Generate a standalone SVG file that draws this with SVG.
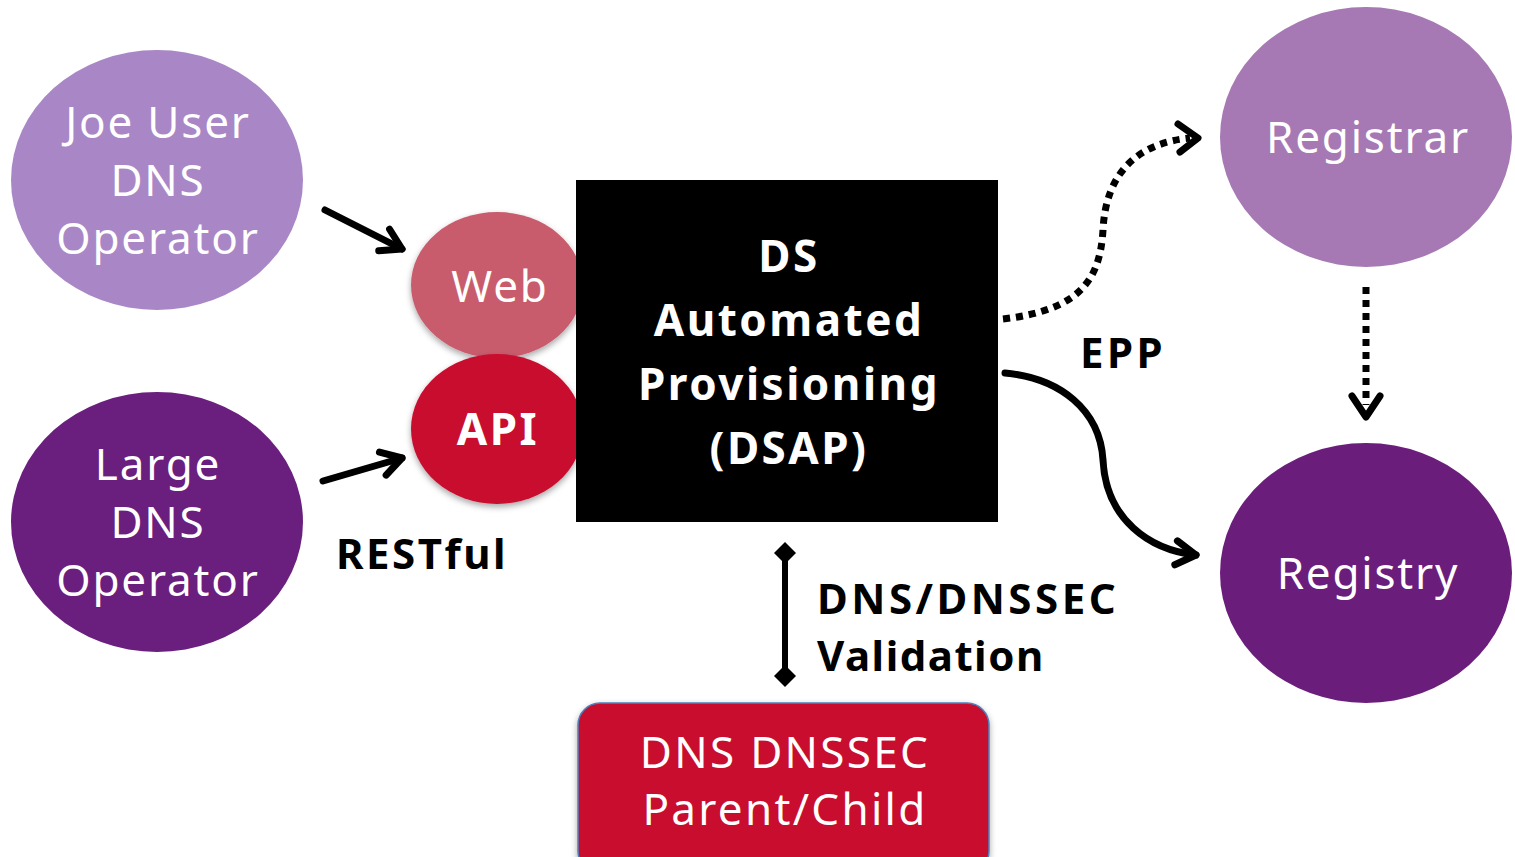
<svg xmlns="http://www.w3.org/2000/svg" width="1515" height="857" viewBox="0 0 1515 857">
<defs>
<style>
.lt{font-family:"Noto Sans","Open Sans","Liberation Sans",sans-serif;fill:#fff;text-anchor:middle;font-size:44px;letter-spacing:1.8px}
.bd{font-family:"Noto Sans","Open Sans","Liberation Sans",sans-serif;font-weight:bold;letter-spacing:2.5px}
.ln{fill:none;stroke:#000;stroke-width:7;stroke-linecap:round}
.dot{fill:none;stroke:#000;stroke-width:7;stroke-dasharray:7 6}
</style>
<marker id="chev" viewBox="-10 -15 30 30" refX="16" refY="0" markerWidth="30" markerHeight="30" markerUnits="userSpaceOnUse" orient="auto" overflow="visible">
<path d="M-4,-12 L16,0 L-4,12" fill="none" stroke="#000" stroke-width="7" stroke-linecap="round" stroke-linejoin="round"/>
</marker>
<marker id="dia" viewBox="-12 -12 24 24" refX="0" refY="0" markerWidth="24" markerHeight="24" markerUnits="userSpaceOnUse" orient="auto">
<path d="M-11,0 L0,-11 L11,0 L0,11 Z" fill="#000"/>
</marker>
<filter id="sh" x="-20%" y="-20%" width="140%" height="140%"><feDropShadow dx="0" dy="3" stdDeviation="3" flood-opacity="0.35"/></filter>
</defs>
<rect width="1515" height="857" fill="#fff"/>
<g id="joe"><ellipse cx="157" cy="180" rx="146" ry="130" fill="#a987c6"/>
<text class="lt"><tspan x="158" y="138">Joe User</tspan><tspan x="158" y="196">DNS</tspan><tspan x="158" y="254">Operator</tspan></text></g>
<g id="large"><ellipse cx="157" cy="522" rx="146" ry="130" fill="#6a1e7d"/>
<text class="lt"><tspan x="158" y="480">Large</tspan><tspan x="158" y="538">DNS</tspan><tspan x="158" y="596">Operator</tspan></text></g>
<g id="web"><ellipse cx="497" cy="285" rx="86" ry="73" fill="#c85c6d" filter="url(#sh)"/>
<text class="lt" x="500" y="302">Web</text></g>
<g id="api"><ellipse cx="497" cy="429" rx="86" ry="75" fill="#c8102e" filter="url(#sh)"/>
<text class="lt bd" x="498" y="445" font-size="42">API</text></g>
<g id="dsap"><rect x="576" y="180" width="422" height="342" fill="#000"/>
<text class="lt bd" font-size="48" style="letter-spacing:2.5px"><tspan x="789" y="272">DS</tspan><tspan x="789" y="336">Automated</tspan><tspan x="789" y="400">Provisioning</tspan><tspan x="789" y="464">(DSAP)</tspan></text></g>
<g id="registrar"><ellipse cx="1366" cy="137" rx="146" ry="130" fill="#a679b4"/>
<text class="lt" x="1368" y="153">Registrar</text></g>
<g id="registry"><ellipse cx="1366" cy="573" rx="146" ry="130" fill="#6b1d7c"/>
<text class="lt" x="1368" y="589">Registry</text></g>
<g id="parentchild"><rect x="578" y="703" width="411" height="170" rx="22" fill="#c8102e" stroke="#4f81bd" stroke-width="1.5" filter="url(#sh)"/>
<text class="lt" style="letter-spacing:2.3px"><tspan x="785" y="768">DNS DNSSEC</tspan><tspan x="785" y="825">Parent/Child</tspan></text></g>
<g id="connectors">
<path class="ln" d="M325,210 L402,249" marker-end="url(#chev)"/>
<path class="ln" d="M323,481 L402,458" marker-end="url(#chev)"/>
<path class="dot" d="M1003,319 C1080,310 1100,280 1103,230 C1106,170 1140,143 1190,138"/>
<path class="ln" d="M1178,124 L1198,138 L1180,152" stroke-linejoin="round"/>
<path class="ln" d="M1005,373 C1060,378 1100,410 1103,460 C1106,520 1150,550 1196,555" marker-end="url(#chev)"/>
<path class="dot" d="M1366,287 L1366,405"/>
<path class="ln" d="M1352,396 L1366,417 L1380,396" stroke-linejoin="round"/>
<path d="M785,553 L785,676" stroke="#000" stroke-width="6" marker-start="url(#dia)" marker-end="url(#dia)"/>
</g>
<g id="labels" class="bd" fill="#000">
<text x="336" y="569" font-size="42">RESTful</text>
<text x="1080" y="368" font-size="42" style="letter-spacing:3.5px">EPP</text>
<text x="817" y="614" font-size="42" style="letter-spacing:3.5px">DNS/DNSSEC</text>
<text x="817" y="671" font-size="42" style="letter-spacing:1.5px">Validation</text>
</g>
</svg>
